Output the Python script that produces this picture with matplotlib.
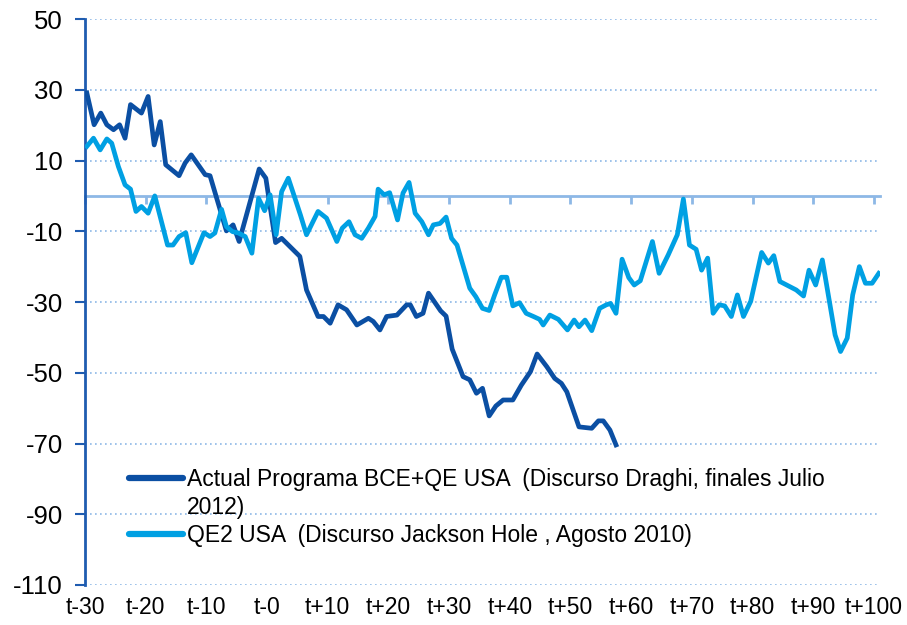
import matplotlib
matplotlib.use("Agg")
import matplotlib.pyplot as plt
from matplotlib.lines import Line2D

plt.rcParams['font.family'] = ['Liberation Sans', 'DejaVu Sans']

# Data
ecb_t = [-29.7, -28.5, -27.4, -26.4, -25.3, -24.3, -23.4, -22.5, -20.7, -19.6,
         -18.6, -17.6, -16.7, -14.5, -13.5, -12.5, -10.2, -9.4, -6.7, -5.6,
         -4.6, -1.3, -0.2, 1.4, 2.4, 5.4, 6.5, 8.4, 9.3, 10.4,
         11.7, 13.1, 14.8, 16.7, 17.5, 18.6, 19.7, 21.4, 23.0, 23.6,
         24.6, 25.7, 26.6, 28.6, 29.5, 30.5, 32.3, 33.4, 34.5, 35.5,
         36.6, 37.7, 38.9, 40.5, 41.9, 43.4, 44.5, 46.1, 47.4, 48.5,
         49.4, 51.4, 53.5, 54.6, 55.4, 56.5, 57.5]
ecb_v = [29.1, 20.1, 23.4, 20.1, 18.7, 20.1, 16.3, 25.8, 23.4, 28.1,
         14.4, 21.0, 8.8, 5.7, 9.3, 11.6, 6.0, 5.7, -9.9, -8.2,
         -12.9, 7.6, 5.0, -13.2, -12.0, -17.1, -26.6, -34.1, -34.1, -36.0,
         -30.8, -32.2, -36.5, -34.6, -35.5, -37.9, -34.1, -33.7, -30.8, -30.8,
         -34.1, -33.2, -27.5, -32.5, -34.0, -43.3, -51.1, -52.0, -55.8, -54.4,
         -62.2, -59.4, -57.7, -57.7, -53.5, -49.7, -44.7, -48.3, -51.6, -53.0,
         -55.4, -65.3, -65.7, -63.6, -63.6, -66.2, -70.4]

qe2_t = [-29.7, -28.6, -27.5, -26.4, -25.6, -24.5, -23.4, -22.5, -21.6, -20.7,
         -19.6, -18.5, -16.4, -15.5, -14.5, -13.4, -12.4, -10.4, -9.4, -8.6,
         -7.5, -6.7, -5.7, -4.7, -3.6, -2.5, -1.4, -0.4, 0.5, 1.5,
         2.4, 3.5, 4.6, 5.5, 6.5, 8.4, 9.8, 11.5, 12.4, 13.5,
         14.5, 15.6, 16.7, 17.8, 18.3, 19.3, 20.2, 21.5, 22.4, 23.4,
         24.4, 25.5, 26.6, 27.4, 28.5, 29.5, 30.4, 31.3, 33.4, 34.4,
         35.5, 36.6, 37.5, 38.6, 39.5, 40.5, 41.6, 42.7, 43.9, 44.9,
         45.5, 46.6, 48.0, 49.5, 50.6, 51.4, 52.4, 53.5, 54.8, 55.9,
         56.6, 57.5, 58.5, 59.6, 60.5, 61.5, 63.5, 64.6, 66.1, 67.6,
         68.6, 69.6, 70.7, 71.6, 72.6, 73.5, 74.5, 75.4, 76.5, 77.5,
         78.5, 79.7, 81.5, 82.6, 83.5, 84.5, 87.2, 88.4, 89.3, 90.4,
         91.5, 93.6, 94.5, 95.6, 96.5, 97.6, 98.6, 99.7, 100.8]
qe2_v = [14.0, 16.3, 13.0, 16.1, 14.9, 8.3, 3.1, 1.9, -4.4, -3.0,
         -4.9, 0.0, -13.9, -13.9, -11.5, -10.4, -18.9, -10.4, -11.5, -10.5,
         -3.8, -8.7, -10.1, -10.5, -11.5, -16.2, -0.7, -4.2, 0.3, -11.0,
         1.2, 5.0, -0.7, -5.4, -11.0, -4.4, -6.3, -12.9, -9.1, -7.3,
         -11.0, -12.0, -9.1, -5.8, 1.9, 0.3, 0.9, -6.8, 0.8, 3.8,
         -4.9, -7.3, -11.0, -8.2, -7.8, -6.0, -12.0, -13.9, -26.1, -28.5,
         -31.8, -32.4, -28.0, -23.0, -23.0, -31.1, -30.2, -33.2, -34.1, -34.9,
         -36.5, -33.7, -34.9, -37.9, -35.1, -37.0, -35.1, -38.1, -31.8, -30.8,
         -30.4, -33.2, -17.9, -23.1, -25.2, -24.0, -12.9, -21.9, -16.7, -11.0,
         -0.9, -13.9, -15.1, -21.0, -17.6, -33.2, -30.8, -31.1, -34.1, -28.0,
         -34.1, -29.8, -16.0, -19.0, -16.9, -24.2, -26.6, -28.3, -21.0, -25.2,
         -18.1, -39.3, -44.0, -40.2, -28.0, -20.0, -24.7, -24.7, -21.9]

x_ticks = list(range(-30, 101, 10))
x_labels = ['t-30', 't-20', 't-10', 't-0', 't+10', 't+20', 't+30', 't+40',
            't+50', 't+60', 't+70', 't+80', 't+90', 't+100']
y_ticks = [50, 30, 10, -10, -30, -50, -70, -90, -110]

ecb_label = 'Actual Programa BCE+QE USA  (Discurso Draghi, finales Julio'
ecb_label2 = '2012)'
qe2_label = 'QE2 USA  (Discurso Jackson Hole , Agosto 2010)'

DARK = '#0B4FA3'
LIGHT = '#00A0E3'
GRID = '#8DB8E6'
SPINE = '#1F5CB0'

fig = plt.figure(figsize=(9.07, 6.25), dpi=100)
ax = fig.add_axes([85/907, 1-585/625, (880-85)/907, (585-19)/625])

ax.set_xlim(-30, 101)
ax.set_ylim(-110, 50)

for yv in y_ticks:
    ax.axhline(yv, color=GRID, lw=1.2, ls=(0, (1, 2)), zorder=1)

ax.plot(ecb_t, ecb_v, color=DARK, lw=3.4, solid_joinstyle='round', zorder=3)
ax.plot(qe2_t, qe2_v, color=LIGHT, lw=3.4, solid_joinstyle='round', zorder=3)

# y axis
ax.set_yticks(y_ticks)
ax.set_yticklabels([str(v) for v in y_ticks])
ax.tick_params(axis='y', direction='out', length=7, width=1.5, color=SPINE,
               labelsize=18.5, pad=9)
for s in ['top', 'right', 'bottom']:
    ax.spines[s].set_visible(False)
ax.spines['left'].set_color(SPINE)
ax.spines['left'].set_linewidth(2)

# x labels at bottom, no line
ax.set_xticks(x_ticks)
ax.set_xticklabels(x_labels)
ax.tick_params(axis='x', length=0, labelsize=16.5, pad=8)

# category axis line at zero with tick marks pointing down
zero_frac = (0 - (-110)) / (50 - (-110))
sec = ax.secondary_xaxis(zero_frac)
sec.set_xticks(x_ticks)
sec.set_xticklabels([''] * len(x_ticks))
sec.tick_params(axis='x', direction='in', length=6, width=2, color=GRID)
for sp in sec.spines.values():
    sp.set_color(GRID)
    sp.set_linewidth(2)

handles = [Line2D([], [], color=DARK, lw=4.5, solid_capstyle='round'),
           Line2D([], [], color='none', lw=0),
           Line2D([], [], color=LIGHT, lw=4.5, solid_capstyle='round')]
leg = ax.legend(handles, [ecb_label, ecb_label2, qe2_label],
                loc='upper left', bbox_to_anchor=(0.055, 0.206),
                frameon=False, fontsize=16.5, handlelength=2.35,
                handletextpad=0.2, labelspacing=0.22, borderpad=0,
                borderaxespad=0)

fig.savefig('out.png', dpi=100)
